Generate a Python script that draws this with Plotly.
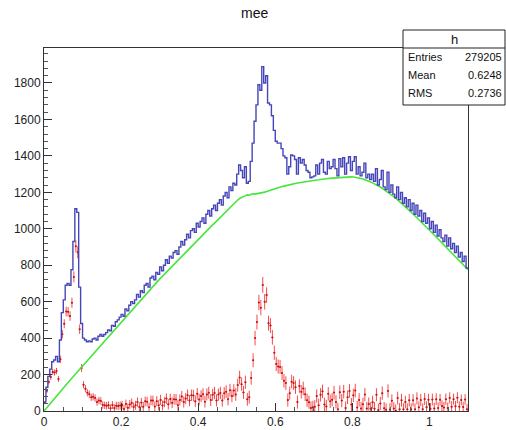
import numpy as np
import plotly.graph_objects as go

# ---------------- data ----------------
title_text = "mee"
x_min, x_max = 0.0, 1.1
bin_width = 0.005

# total (blue) histogram, 220 bins of 0.005
blue_counts = [
    50, 130, 190, 230, 270, 280, 300, 270, 390, 540,
    610, 690, 700, 690, 775, 930, 1110, 1090, 680, 480,
    400, 390, 380, 385, 380, 395, 400, 390, 410, 420,
    410, 420, 430, 445, 440, 470, 465, 490, 500, 515,
    530, 520, 560, 550, 580, 600, 590, 610, 640, 625,
    660, 650, 690, 700, 680, 730, 740, 720, 760, 750,
    790, 770, 800, 830, 810, 850, 840, 870, 880, 860,
    900, 930, 910, 940, 970, 950, 990, 1000, 980, 1030,
    1010, 1040, 1060, 1030, 1080, 1100, 1070, 1110, 1130, 1100,
    1140, 1160, 1130, 1180, 1200, 1170, 1230, 1210, 1250, 1240,
    1300, 1350, 1320, 1280, 1340, 1250, 1260, 1370, 1470, 1590,
    1680, 1790, 1760, 1890, 1800, 1840, 1690, 1680, 1620, 1540,
    1480, 1470, 1470, 1440, 1400, 1390, 1300, 1340, 1405, 1400,
    1380, 1300, 1390, 1360, 1380, 1350, 1320, 1310, 1280, 1285,
    1290, 1350, 1300, 1360, 1380, 1310, 1300, 1370, 1330, 1340,
    1380, 1330, 1290, 1385, 1340, 1390, 1300, 1360, 1395, 1320,
    1370, 1395, 1300, 1340, 1290, 1310, 1360, 1280, 1300, 1270,
    1300, 1260, 1330, 1240, 1270, 1320, 1230, 1215, 1310, 1200,
    1240, 1190, 1170, 1230, 1160, 1200, 1140, 1170, 1120, 1160,
    1100, 1140, 1080, 1130, 1070, 1100, 1040, 1085, 1030, 1060,
    1000, 1040, 980, 1020, 960, 995, 950, 930, 965, 905,
    950, 890, 920, 870, 905, 845, 870, 820, 850, 785,
]

# background (green) histogram, same binning
green_counts = [
    6, 19, 31, 44, 56, 69, 81, 94, 106, 119,
    131, 144, 156, 169, 181, 194, 206, 219, 231, 244,
    256, 268, 280, 293, 305, 317, 329, 341, 353, 365,
    377, 389, 401, 413, 425, 437, 449, 461, 473, 485,
    497, 509, 521, 532, 544, 556, 568, 579, 591, 603,
    614, 626, 637, 649, 660, 672, 683, 695, 706, 718,
    729, 740, 751, 762, 773, 784, 795, 806, 817, 828,
    839, 850, 861, 872, 883, 893, 904, 915, 926, 936,
    947, 958, 968, 979, 989, 1000, 1010, 1021, 1031, 1042,
    1050, 1061, 1072, 1083, 1094, 1105, 1116, 1127, 1138, 1149,
    1158, 1166, 1173, 1178, 1182, 1186, 1184, 1189, 1192, 1190,
    1192, 1195, 1193, 1198, 1201, 1204, 1208, 1211, 1216, 1220,
    1222, 1226, 1228, 1232, 1234, 1237, 1240, 1242, 1244, 1247,
    1249, 1251, 1253, 1255, 1256, 1258, 1261, 1262, 1263, 1265,
    1266, 1268, 1269, 1271, 1272, 1274, 1275, 1276, 1277, 1278,
    1279, 1280, 1281, 1282, 1283, 1284, 1284, 1285, 1285, 1285,
    1284, 1283, 1281, 1279, 1276, 1273, 1270, 1266, 1262, 1257,
    1252, 1247, 1241, 1235, 1229, 1222, 1215, 1208, 1200, 1192,
    1184, 1176, 1168, 1159, 1150, 1141, 1131, 1121, 1111, 1101,
    1091, 1081, 1071, 1061, 1050, 1040, 1030, 1019, 1009, 998,
    988, 977, 966, 955, 944, 933, 922, 911, 900, 889,
    878, 866, 855, 844, 832, 821, 809, 798, 787, 776,
]

y_tick_values = [0, 200, 400, 600, 800, 1000, 1200, 1400, 1600, 1800]
x_tick_values = [0, 0.2, 0.4, 0.6, 0.8, 1.0]
x_tick_labels = ["0", "0.2", "0.4", "0.6", "0.8", "1"]

stats_title = "h"
stats_names = ["Entries", "Mean", "RMS"]
stats_values = ["279205", "0.6248", "0.2736"]

# ---------------- derived ----------------
blue = np.array(blue_counts, dtype=float)
green = np.array(green_counts, dtype=float)
nb = len(blue)
edges = x_min + bin_width * np.arange(nb + 1)
centers = edges[:-1] + bin_width / 2
signal = blue - green
sig_err = np.sqrt(blue)

# ---------------- figure ----------------
W, H = 506, 430
L, R, T, B = 44, 38, 48, 19
pw, ph = W - L - R, H - T - B


def px(xp):
    return (xp - L) / pw


def py(yp):
    return (H - B - yp) / ph


fig = go.Figure()

fig.add_trace(go.Scatter(
    x=centers, y=signal, mode="markers",
    marker=dict(size=2, color="rgb(190,20,20)"),
    error_y=dict(type="data", array=sig_err, color="rgba(245,55,55,0.9)", thickness=1, width=0),
    error_x=dict(type="constant", value=bin_width / 2, color="rgba(245,55,55,0.9)", thickness=1, width=0),
    hoverinfo="skip", showlegend=False,
))

fig.add_trace(go.Scatter(
    x=np.concatenate([[x_min], centers, [x_max]]),
    y=np.concatenate([[0], green, [green[-1]]]),
    mode="lines",
    line=dict(color="rgb(70,230,60)", width=1.6),
    hoverinfo="skip", showlegend=False,
))

fig.add_trace(go.Scatter(
    x=edges, y=list(blue) + [blue[-1]], mode="lines",
    line=dict(shape="hv", color="rgb(70,70,185)", width=1.4),
    hoverinfo="skip", showlegend=False,
))

axis_font = dict(family="Liberation Sans, Arial, sans-serif", size=12, color="#222")

fig.update_layout(
    width=W, height=H,
    margin=dict(l=L, r=R, t=T, b=B, autoexpand=False),
    paper_bgcolor="white", plot_bgcolor="white",
    showlegend=False,
    xaxis=dict(
        range=[x_min, x_max], tickvals=x_tick_values, ticktext=x_tick_labels,
        ticks="inside", ticklen=8, tickcolor="#333", tickwidth=1,
        showline=True, linecolor="#333", linewidth=1, mirror=True,
        showgrid=False, zeroline=False, tickfont=axis_font, automargin=False,
        minor=dict(dtick=0.05, tick0=0, ticks="inside", ticklen=4, tickcolor="#555"),
    ),
    yaxis=dict(
        range=[0, 1992], tickvals=y_tick_values,
        ticks="inside", ticklen=8, tickcolor="#333", tickwidth=1,
        showline=True, linecolor="#333", linewidth=1, mirror=True,
        showgrid=False, zeroline=False, tickfont=axis_font, automargin=False,
        minor=dict(dtick=40, tick0=0, ticks="inside", ticklen=4, tickcolor="#555"),
    ),
)

# title
fig.add_annotation(
    text=title_text, xref="paper", yref="paper", x=px(254), y=py(13),
    showarrow=False, font=dict(family="Liberation Sans, Arial, sans-serif", size=14, color="#111"),
    xanchor="center", yanchor="middle",
)

# stats box
bx0, bx1, by0, by1, bh = 403, 505, 30, 105, 48
fig.add_shape(type="rect", xref="paper", yref="paper",
              x0=px(bx0), x1=px(bx1), y0=py(by1), y1=py(by0),
              line=dict(color="#222", width=1), fillcolor="white", layer="above")
fig.add_shape(type="line", xref="paper", yref="paper",
              x0=px(bx0), x1=px(bx1), y0=py(bh), y1=py(bh),
              line=dict(color="#222", width=1), layer="above")
stat_font = dict(family="Liberation Sans, Arial, sans-serif", size=11, color="#111")
fig.add_annotation(text=stats_title, xref="paper", yref="paper", x=px((bx0 + bx1) / 2), y=py(39),
                   showarrow=False, font=dict(family="Liberation Sans, Arial, sans-serif", size=13, color="#111"),
                   xanchor="center", yanchor="middle")
row_y = [57, 75, 93]
for name, val, yy in zip(stats_names, stats_values, row_y):
    fig.add_annotation(text=name, xref="paper", yref="paper", x=px(bx0 + 3), y=py(yy),
                       showarrow=False, font=stat_font, xanchor="left", yanchor="middle")
    fig.add_annotation(text=val, xref="paper", yref="paper", x=px(bx1 - 1), y=py(yy),
                       showarrow=False, font=stat_font, xanchor="right", yanchor="middle")

fig.write_html("out.html")
